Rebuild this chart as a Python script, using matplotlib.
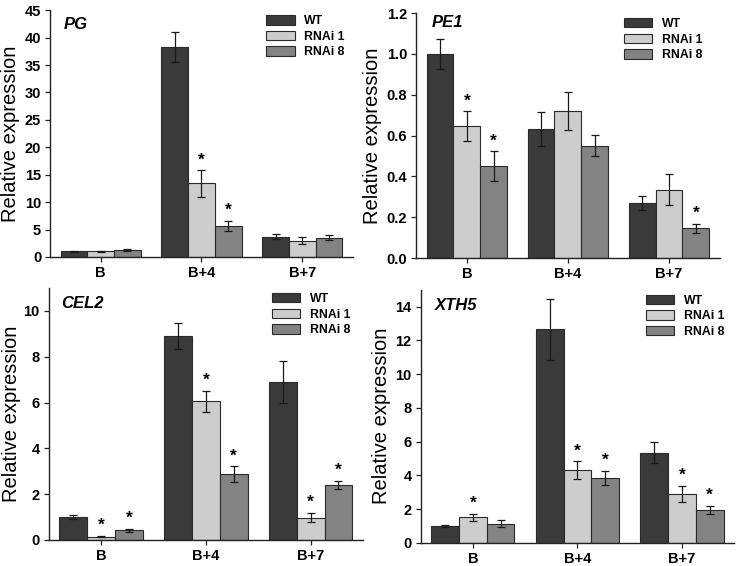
import numpy as np
import matplotlib
matplotlib.use('Agg')
import matplotlib.pyplot as plt

plt.rcParams['font.family'] = ['Liberation Sans', 'DejaVu Sans']

stages = ['B', 'B+4', 'B+7']
lines = ['WT', 'RNAi 1', 'RNAi 8']
colors = ['#3a3a3a', '#cdcdcd', '#838383']

# values per gene: rows = lines (WT, RNAi 1, RNAi 8), cols = stages
pg_vals = [[1.0, 38.3, 3.7], [1.0, 13.4, 3.0], [1.2, 5.7, 3.5]]
pg_errs = [[0.1, 2.7, 0.4], [0.1, 2.4, 0.6], [0.2, 0.9, 0.45]]
pg_star = [[0, 0, 0], [0, 1, 0], [0, 1, 0]]

pe1_vals = [[1.0, 0.63, 0.27], [0.645, 0.72, 0.335], [0.45, 0.55, 0.145]]
pe1_errs = [[0.075, 0.083, 0.033], [0.073, 0.093, 0.075], [0.072, 0.052, 0.022]]
pe1_star = [[0, 0, 0], [1, 0, 0], [1, 0, 1]]

cel2_vals = [[1.0, 8.9, 6.88], [0.15, 6.05, 0.97], [0.42, 2.88, 2.4]]
cel2_errs = [[0.08, 0.58, 0.92], [0.03, 0.47, 0.2], [0.08, 0.33, 0.18]]
cel2_star = [[0, 0, 0], [1, 1, 1], [1, 1, 1]]

xth5_vals = [[1.0, 12.65, 5.35], [1.5, 4.3, 2.88], [1.13, 3.83, 1.95]]
xth5_errs = [[0.07, 1.8, 0.6], [0.2, 0.53, 0.47], [0.2, 0.43, 0.22]]
xth5_star = [[0, 0, 0], [1, 1, 1], [0, 1, 1]]

panels = [
    # gene, vals, errs, stars, ymax, ytick top, ystep, fmt, axes rect, title xy, legend x, labelpad
    ('PG', pg_vals, pg_errs, pg_star, 45, 45, 5, '%d',
     [0.068, 0.546, 0.410, 0.436], (0.045, 0.943), 0.99, 3),
    ('PE1', pe1_vals, pe1_errs, pe1_star, 1.2, 1.2, 0.2, '%.1f',
     [0.564, 0.544, 0.411, 0.433], (0.05, 0.96), 0.96, 3),
    ('CEL2', cel2_vals, cel2_errs, cel2_star, 11, 10, 2, '%d',
     [0.066, 0.046, 0.426, 0.445], (0.04, 0.94), 0.975, 1.5),
    ('XTH5', xth5_vals, xth5_errs, xth5_star, 15, 14, 2, '%d',
     [0.570, 0.041, 0.425, 0.447], (0.045, 0.937), 0.985, 3),
]

fig = plt.figure(figsize=(7.38, 5.66), dpi=100)
x = np.arange(len(stages))
w = 0.265

for gene, vals, errs, stars, ymax, ytop, ystep, fmt, rect, title_xy, leg_x, lpad in panels:
    ax = fig.add_axes(rect)
    for i, name in enumerate(lines):
        xs = x + (i - 1) * w
        ax.bar(xs, vals[i], w, color=colors[i], edgecolor='#2a2a2a',
               linewidth=0.8, label=name, zorder=2)
        ax.errorbar(xs, vals[i], yerr=errs[i], fmt='none', ecolor='#1a1a1a',
                    elinewidth=0.9, capsize=3, capthick=0.9, zorder=3)
        for j in range(len(stages)):
            if stars[i][j]:
                ax.text(xs[j], vals[i][j] + errs[i][j] + ymax * 0.012, '*',
                        ha='center', va='bottom', fontsize=12.5, fontweight='bold')
    ax.set_xlim(-0.5, 2.5)
    ax.set_ylim(0, ymax)
    ticks = np.arange(0, ytop + ystep / 2, ystep)
    ax.set_yticks(ticks)
    ax.set_yticklabels([fmt % t for t in ticks])
    ax.set_xticks(x)
    ax.set_xticklabels(stages)
    for s in ['top', 'right']:
        ax.spines[s].set_visible(False)
    for s in ['left', 'bottom']:
        ax.spines[s].set_linewidth(1.0)
        ax.spines[s].set_color('#222222')
    ax.tick_params(axis='both', direction='out', length=3.5, width=0.9,
                   labelsize=10.5, pad=3, color='#222222')
    for lab in ax.get_xticklabels() + ax.get_yticklabels():
        lab.set_fontweight('bold')
    ax.set_ylabel('Relative expression', fontsize=14.5, labelpad=lpad)
    ax.text(title_xy[0], title_xy[1], gene, transform=ax.transAxes,
            fontsize=12, fontweight='bold', fontstyle='italic',
            ha='left', va='center')
    ax.legend(loc='upper right', bbox_to_anchor=(leg_x, 1.0),
              frameon=False, handlelength=2.3, handleheight=0.8,
              labelspacing=0.3, handletextpad=0.8, borderaxespad=0.0,
              prop={'size': 8.8, 'weight': 'bold'})

fig.savefig('out.png', dpi=100)
